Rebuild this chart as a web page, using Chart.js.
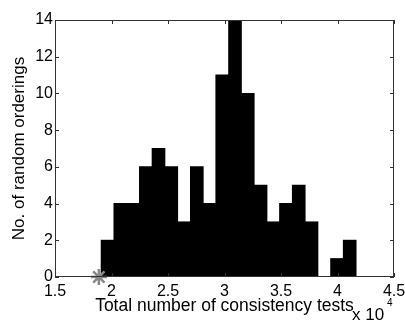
<!DOCTYPE html>
<html>
<head>
<meta charset="utf-8">
<script src="https://cdn.jsdelivr.net/npm/chart.js@4.4.0/dist/chart.umd.min.js"></script>
<style>
    html, body { margin: 0; padding: 0; background: #fff; }
    #wrap { width: 405px; height: 321px; }
</style>
</head>
<body>
<div id="wrap"><canvas id="histChart" width="405" height="321"></canvas></div>
<script>
// histogram bins (x in units of 10^4)
var binCenters = [1.965, 2.078, 2.191, 2.304, 2.416, 2.529, 2.642, 2.755, 2.868, 2.980,
                  3.093, 3.206, 3.319, 3.432, 3.544, 3.657, 3.770, 3.883, 3.996, 4.108];
var binCounts = [2, 4, 4, 6, 7, 6, 3, 6, 4, 11, 14, 10, 5, 3, 4, 5, 3, 0, 1, 2];

// the grey asterisk on the axis
var markerX = [1.888];
var markerY = [0];

var xTicks = [1.5, 2, 2.5, 3, 3.5, 4, 4.5];
var yTicks = [0, 2, 4, 6, 8, 10, 12, 14];

var fontFamily = '"Liberation Sans", Arial, Helvetica, sans-serif';

// matlab style box with inward ticks + the "x 10^4" exponent
var boxPlugin = {
    id: 'matlabBox',
    afterDatasetsDraw: function (chart) {
        var ctx = chart.ctx,
            area = chart.chartArea,
            xs = chart.scales.x,
            ys = chart.scales.y,
            tickLen = 4;

        ctx.save();
        ctx.strokeStyle = '#333';
        ctx.lineWidth = 1;
        ctx.strokeRect(area.left + 0.5, area.top + 0.5, area.right - area.left - 1, area.bottom - area.top - 1);

        ctx.beginPath();
        xTicks.forEach(function (v) {
            var px = Math.round(xs.getPixelForValue(v)) + 0.5;
            ctx.moveTo(px, area.top);
            ctx.lineTo(px, area.top + tickLen);
            ctx.moveTo(px, area.bottom);
            ctx.lineTo(px, area.bottom - tickLen);
        });
        yTicks.forEach(function (v) {
            var py = Math.round(ys.getPixelForValue(v)) + 0.5;
            ctx.moveTo(area.left, py);
            ctx.lineTo(area.left + tickLen, py);
            ctx.moveTo(area.right, py);
            ctx.lineTo(area.right - tickLen, py);
        });
        ctx.stroke();
        ctx.restore();
    },
    afterDraw: function (chart) {
        var ctx = chart.ctx,
            area = chart.chartArea;
        ctx.save();
        ctx.fillStyle = '#000';
        ctx.textBaseline = 'alphabetic';
        ctx.textAlign = 'left';
        ctx.font = '17px ' + fontFamily;
        ctx.fillText('x 10', area.right - 42, 320);
        ctx.font = '10px ' + fontFamily;
        ctx.fillText('4', area.right - 7, 306);
        ctx.restore();
    }
};

var barData = binCenters.map(function (x, i) { return { x: x, y: binCounts[i] }; });
var markerData = markerX.map(function (x, i) { return { x: x, y: markerY[i] }; });

new Chart(document.getElementById('histChart'), {
    type: 'bar',
    data: {
        datasets: [
            {
                type: 'scatter',
                xAxisID: 'xm',
                data: markerData,
                pointStyle: 'star',
                pointRadius: 8,
                borderColor: '#888',
                backgroundColor: '#888',
                borderWidth: 2.5,
                clip: false,
                order: 0
            },
            {
                data: barData,
                backgroundColor: '#000',
                borderWidth: 0,
                grouped: false,
                barPercentage: 1,
                categoryPercentage: 1,
                inflateAmount: 0.5,
                order: 1
            }
        ]
    },
    options: {
        responsive: false,
        animation: false,
        devicePixelRatio: 1,
        layout: { padding: { top: 20, right: 11, bottom: 0, left: 0 } },
        plugins: {
            legend: { display: false },
            tooltip: { enabled: false }
        },
        scales: {
            x: {
                type: 'linear',
                offset: false,
                min: 1.5,
                max: 4.5,
                grid: { display: false, drawTicks: false, offset: false },
                border: { display: false },
                afterBuildTicks: function (scale) {
                    scale.ticks = xTicks.map(function (v) { return { value: v }; });
                },
                afterFit: function (scale) {
                    scale.height = 44;
                    scale.paddingLeft = 0;
                    scale.paddingRight = 0;
                },
                ticks: {
                    autoSkip: false,
                    maxRotation: 0,
                    padding: 5,
                    color: '#000',
                    font: { family: fontFamily, size: 16 },
                    callback: function (v) { return String(v); }
                },
                title: {
                    display: true,
                    text: 'Total number of consistency tests',
                    color: '#000',
                    font: { family: fontFamily, size: 17.5 },
                    padding: { top: 0, bottom: 4 }
                }
            },
            xm: {
                type: 'linear',
                display: false,
                offset: false,
                min: 1.5,
                max: 4.5
            },
            y: {
                min: 0,
                max: 14,
                grid: { display: false, drawTicks: false },
                border: { display: false },
                afterBuildTicks: function (scale) {
                    scale.ticks = yTicks.map(function (v) { return { value: v }; });
                },
                afterFit: function (scale) {
                    scale.width = 55;
                    scale.paddingTop = 0;
                    scale.paddingBottom = 0;
                },
                ticks: {
                    padding: 2,
                    color: '#000',
                    font: { family: fontFamily, size: 16 }
                },
                title: {
                    display: true,
                    text: 'No. of random orderings',
                    color: '#000',
                    font: { family: fontFamily, size: 17 },
                    padding: { top: 9, bottom: 0 }
                }
            }
        }
    },
    plugins: [boxPlugin]
});
</script>
</body>
</html>
